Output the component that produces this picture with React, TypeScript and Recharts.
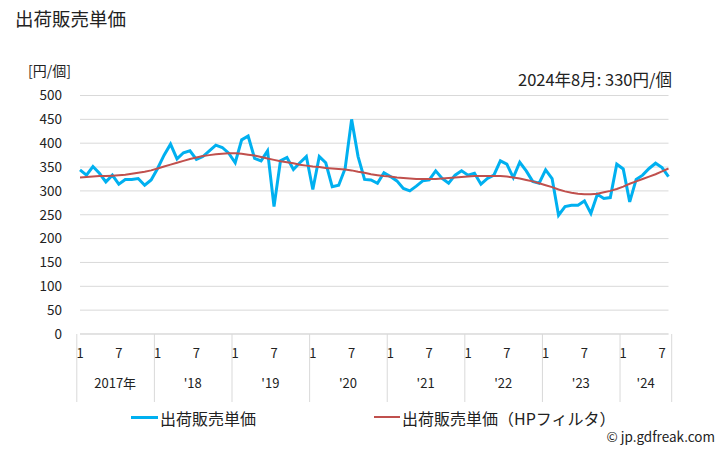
import { ComposedChart, Line, XAxis, YAxis, CartesianGrid } from "recharts"

const years = ["2017年", "'18", "'19", "'20", "'21", "'22", "'23", "'24"]
const monthsPerYear = [12, 12, 12, 12, 12, 12, 12, 8]
const yTicks = [0, 50, 100, 150, 200, 250, 300, 350, 400, 450, 500]

// 出荷販売単価 [円/個], 2017/1 .. 2024/8
const sales = [
  344, 333, 351, 337, 319, 333, 314, 324, 324, 326, 312, 323,
  347, 375, 398, 367, 380, 384, 366, 372, 384, 396, 391, 379,
  359, 407, 415, 368, 363, 384, 267, 363, 370, 345, 359, 372,
  303, 372, 359, 309, 312, 347, 450, 372, 324, 323, 316, 338,
  330, 321, 305, 300, 310, 321, 323, 342, 326, 316, 333, 342,
  333, 337, 314, 326, 333, 363, 356, 328, 360, 342, 320, 316,
  344, 326, 249, 267, 270, 270, 279, 253, 293, 284, 286, 356,
  346, 277, 324, 333, 347, 358, 349, 330
]

// HPフィルタ
const trend = [
  328, 329, 330, 331, 331, 332, 333, 334, 336, 338, 340, 343,
  347, 351, 355, 359, 363, 367, 370, 373, 375, 377, 378, 379,
  379, 378, 376, 374, 371, 368, 365, 362, 360, 358, 355, 353,
  351, 350, 348, 347, 346, 345, 343, 340, 338, 335, 333, 331,
  330, 328, 327, 326, 325, 325, 325, 325, 326, 327, 328, 329,
  330, 331, 331, 331, 331, 331, 330, 328, 326, 323, 320, 316,
  312, 308, 303, 299, 296, 294, 293, 293, 294, 297, 300, 304,
  309, 315, 320, 325, 330, 335, 341, 347
]

const rows: { key: string; month: number; year: number; sales: number; trend: number }[] = []
let k = 0
years.forEach((_, yi) => {
  for (let m = 1; m <= monthsPerYear[yi]; m++) {
    rows.push({ key: `${yi}-${m}`, month: m, year: yi, sales: sales[k], trend: trend[k] })
    k++
  }
})

const W = 728
const H = 450
const plotLeft = 80
const plotRight = 668.5
const bandW = (plotRight - plotLeft) / rows.length
const font = "'Noto Sans CJK JP', 'Noto Sans', sans-serif"
const grid = "#d9d9d9"

function MonthTick(props: any) {
  const { x, y, payload } = props
  const row = rows[payload.index]
  if (!row) return null
  const left = x - bandW / 2
  const n = monthsPerYear[row.year]
  return (
    <g>
      {row.month === 1 && (
        <line x1={left} x2={left} y1={y} y2={y + 68} stroke={grid} />
      )}
      {payload.index === rows.length - 1 && (
        <line x1={x + bandW / 2} x2={x + bandW / 2} y1={y} y2={y + 68} stroke={grid} />
      )}
      {(row.month === 1 || row.month === 7) && (
        <text x={x} y={y + 24} textAnchor="middle" fontSize={13} fill="#222" fontFamily={font}>
          {row.month}
        </text>
      )}
      {row.month === 1 && (
        <text x={left + (n * bandW) / 2} y={y + 54} textAnchor="middle" fontSize={13} fill="#222" fontFamily={font}>
          {years[row.year]}
        </text>
      )}
    </g>
  )
}

export default function App() {
  return (
    <div style={{ position: "absolute", left: 0, top: 0, width: W, height: H, background: "#fff", fontFamily: font, color: "#222" }}>
      <div style={{ position: "absolute", left: 15, top: 5, fontSize: 18.5 }}>出荷販売単価</div>
      <div style={{ position: "absolute", left: 28, top: 60, fontSize: 14 }}>[円/個]</div>
      <div style={{ position: "absolute", right: W - 672, top: 67, fontSize: 16.5, whiteSpace: "nowrap" }}>
        2024年8月: 330円/個
      </div>
      <ComposedChart
        width={W}
        height={H}
        data={rows}
        margin={{ top: 95.5, right: W - plotRight, bottom: 48, left: 40 }}
      >
        <CartesianGrid vertical={false} stroke={grid} />
        <XAxis
          dataKey="key"
          interval={0}
          tickLine={false}
          tickSize={0}
          tickMargin={0}
          height={68}
          axisLine={{ stroke: grid }}
          tick={<MonthTick />}
        />
        <YAxis
          width={40}
          domain={[0, 500]}
          ticks={yTicks}
          axisLine={false}
          tickLine={false}
          tickSize={0}
          tickMargin={18}
          tick={{ fontSize: 13.5, fill: "#222", fontFamily: font }}
        />
        <Line
          dataKey="sales"
          stroke="#00b0f0"
          strokeWidth={3}
          dot={false}
          isAnimationActive={false}
        />
        <Line
          dataKey="trend"
          stroke="#c0504d"
          strokeWidth={2}
          dot={false}
          isAnimationActive={false}
        />
      </ComposedChart>
      <div style={{ position: "absolute", left: 131, top: 416, width: 27, height: 3, background: "#00b0f0" }} />
      <div style={{ position: "absolute", left: 160, top: 406, fontSize: 16 }}>出荷販売単価</div>
      <div style={{ position: "absolute", left: 374, top: 416, width: 26, height: 2, background: "#c0504d" }} />
      <div style={{ position: "absolute", left: 402, top: 406, fontSize: 16 }}>出荷販売単価（HPフィルタ）</div>
      <div style={{ position: "absolute", right: W - 715, top: 426, fontSize: 13.5, whiteSpace: "nowrap" }}>
        © jp.gdfreak.com
      </div>
    </div>
  )
}
